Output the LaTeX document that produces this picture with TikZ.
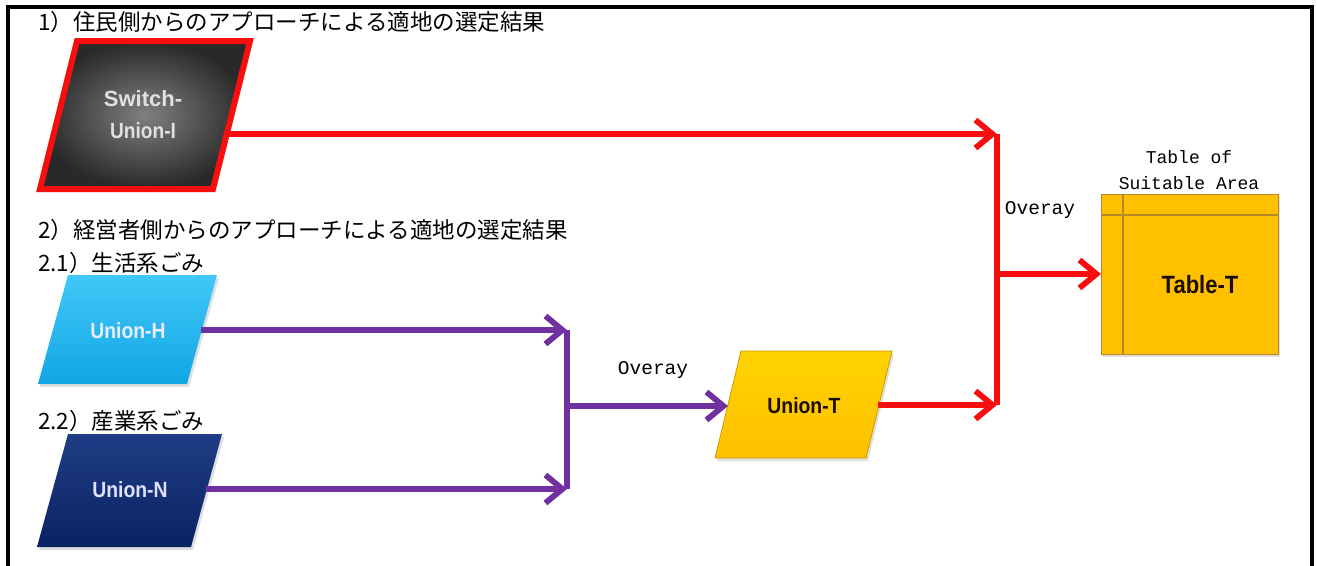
\documentclass[tikz,border=0pt]{standalone}
\usepackage{fontspec}
\setmainfont{Liberation Sans}
\newfontfamily\jp{Noto Sans CJK JP}
\newfontfamily\monof{Liberation Mono}
\usetikzlibrary{arrows.meta,shadows,calc}
\definecolor{ured}{HTML}{F70F0F}
\definecolor{upurple}{HTML}{7030A0}
\definecolor{ugold}{HTML}{FFC000}
\definecolor{ugoldline}{HTML}{B8862B}
\definecolor{ucyanT}{HTML}{40C8F8}
\definecolor{ucyanB}{HTML}{12A6E4}
\definecolor{unavyT}{HTML}{1F3C85}
\definecolor{unavyB}{HTML}{0A2361}
\begin{document}
\begin{tikzpicture}[x=1pt,y=-1pt,
  mybarb/.tip={Straight Barb[length=17pt,width=28pt]},
  bboxnode/.style={rectangle, inner sep=0pt, outer sep=0pt},
  shapetext/.style={font=\bfseries\fontsize{22}{32}\selectfont, align=center, inner sep=0pt},
  jptitle/.style={font=\jp\fontsize{22.5}{26}\selectfont, anchor=west, inner sep=0pt},
  monolabel/.style={font=\monof\fontsize{19.5}{26}\selectfont, inner sep=0pt, align=center},
  redline/.style={draw=ured, line width=5.8pt},
  purpleline/.style={draw=upurple, line width=5.8pt},
  softshadow/.style={drop shadow={opacity=0.25, shadow xshift=2pt, shadow yshift=-3pt}}
]
\useasboundingbox (0,0) rectangle (1317,565);
\fill[white] (0,0) rectangle (1317,565);
% frame
\draw[line width=4pt, line join=miter] (8,580) -- (8,7) -- (1312,7) -- (1312,580);

% titles
\node[jptitle] (t1) at (38,22) {1）住民側からのアプローチによる適地の選定結果};
\node[jptitle] (t2) at (38,230) {2）経営者側からのアプローチによる適地の選定結果};
\node[jptitle] (t21) at (38,263) {2.1）生活系ごみ};
\node[jptitle] (t22) at (38,421) {2.2）産業系ごみ};

% shape frames (bounding boxes of the parallelograms)
\node[bboxnode, minimum width=210pt, minimum height=148pt] (I) at (145,115) {};
\node[bboxnode, minimum width=179pt, minimum height=109pt] (H) at (127.5,329.5) {};
\node[bboxnode, minimum width=185pt, minimum height=113pt] (N) at (129.5,490.5) {};
\node[bboxnode, minimum width=177pt, minimum height=107pt] (T) at (803.5,404.5) {};

% parallelograms
\path[draw=ured, line width=6pt, line join=miter, inner color=black!50, outer color=black!84]
  ($(I.north west)+(37,0)$) -- (I.north east) -- ($(I.south east)+(-37,0)$) -- (I.south west) -- cycle;
\path[top color=ucyanT, bottom color=ucyanB, softshadow]
  ($(H.north west)+(30,0)$) -- (H.north east) -- ($(H.south east)+(-30,0)$) -- (H.south west) -- cycle;
\path[top color=unavyT, bottom color=unavyB, softshadow]
  ($(N.north west)+(31,0)$) -- (N.north east) -- ($(N.south east)+(-31,0)$) -- (N.south west) -- cycle;
\path[top color=ugold!70!yellow, bottom color=ugold, draw=ugold!80!black, line width=0.8pt, softshadow]
  ($(T.north west)+(26,0)$) -- (T.north east) -- ($(T.south east)+(-26,0)$) -- (T.south west) -- cycle;

% texts in shapes
\node[shapetext, text=black!12] (Itext) at (143,115)
  {\scalebox{1.0}[1]{Switch-}\\\scalebox{0.87}[1]{Union-I}};
\node[shapetext, text=white!92!blue] (Htext) at (128,331) {\scalebox{0.88}[1]{Union-H}};
\node[shapetext, text=white!88!blue] (Ntext) at (130,490) {\scalebox{0.88}[1]{Union-N}};
\node[shapetext, text=black!90!orange] (Ttext) at (804,406) {\scalebox{0.88}[1]{Union-T}};

% table
\node[rectangle, minimum width=177pt, minimum height=160pt, inner sep=0pt, outer sep=0pt,
      fill=ugold, draw=ugoldline, line width=1pt, softshadow] (Tbl) at (1189.5,274) {};
\draw[ugoldline, line width=1.2pt] ($(Tbl.north west)+(0,21)$) -- ($(Tbl.north east)+(0,21)$);
\draw[ugoldline, line width=1.2pt] ($(Tbl.north west)+(22,0)$) -- ($(Tbl.south west)+(22,0)$);
\node[font=\bfseries\fontsize{25}{30}\selectfont, text=black!90!orange, inner sep=0pt] (TT) at (1200,285) {\scalebox{0.88}[1]{Table-T}};
\node[monolabel, font=\monof\fontsize{18}{26}\selectfont] (tbltitle) at (1189,170) {Table of\\Suitable Area};

% labels
\node[monolabel] (ov1) at (653,370) {Overay};
\node[monolabel] (ov2) at (1040,210) {Overay};

% junction coordinates
\coordinate (pj1) at (567,330);
\coordinate (pj2) at (567,489);
\coordinate (pj3) at (567,406);
\coordinate (rj1) at (997,134);
\coordinate (rj2) at (997,405);
\coordinate (rj3) at (997,274);

% purple connectors
\draw[purpleline] (pj1) -- (pj2);
\draw[purpleline, -mybarb] ($(H.east)+(-16,0.5)$) -- (pj1);
\draw[purpleline, -mybarb] ($(N.east)+(-16,-1.5)$) -- (pj2);
\draw[purpleline, -mybarb] (pj3) -- ($(T.west)+(13,1.5)$);

% red connectors
\draw[redline] (rj1) -- (rj2);
\draw[redline, -mybarb] ($(I.east)+(-24,19)$) -- (rj1);
\draw[redline, -mybarb] ($(T.east)+(-14,0.5)$) -- (rj2);
\draw[redline, -mybarb] (rj3) -- (Tbl.west);
\end{tikzpicture}
\end{document}
